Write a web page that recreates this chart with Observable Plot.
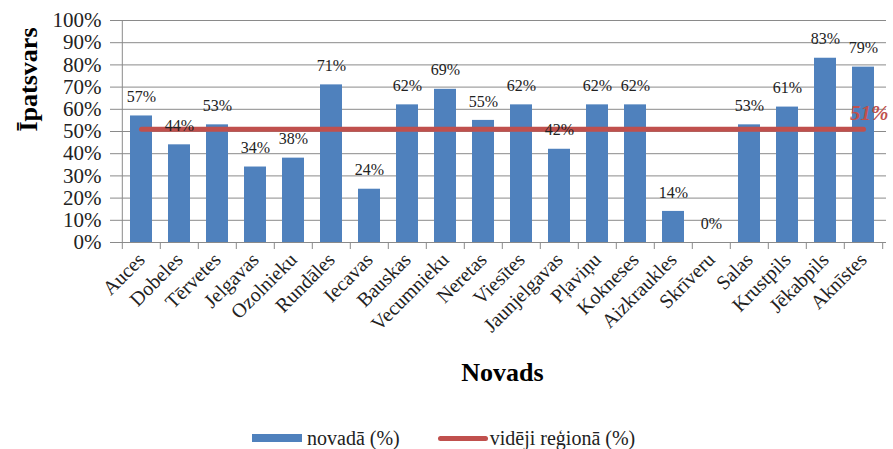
<!DOCTYPE html>
<html>
<head>
<meta charset="utf-8">
<script src="https://cdn.jsdelivr.net/npm/d3@7"></script>
<script src="https://cdn.jsdelivr.net/npm/@observablehq/plot@0.6"></script>
<style>
  body { margin: 0; background: #fff; font-family: 'Liberation Serif', 'DejaVu Serif', serif; }
  #chart svg { display: block; }
  #legend { display: flex; align-items: center; height: 26px; padding-top: 9px; padding-left: 252px; font-size: 20px; color: #222; font-family: 'Liberation Serif', 'DejaVu Serif', serif; }
  .sw { display: inline-block; width: 50px; height: 8px; background: #4F81BD; margin-right: 5px; }
  .ln { display: inline-block; width: 50px; height: 5px; background: #C0504D; border-radius: 3px; margin-left: 38px; margin-right: 2px; }
</style>
</head>
<body>
<div id="chart"></div>
<div id="legend"><span class="sw"></span><span id="s1"></span><span class="ln"></span><span id="s2"></span></div>
<script>
const categories = ["Auces","Dobeles","Tērvetes","Jelgavas","Ozolnieku","Rundāles","Iecavas","Bauskas","Vecumnieku","Neretas","Viesītes","Jaunjelgavas","Pļaviņu","Kokneses","Aizkraukles","Skrīveru","Salas","Krustpils","Jēkabpils","Aknīstes"];
const values = [0.57,0.44,0.53,0.34,0.38,0.71,0.24,0.62,0.69,0.55,0.62,0.42,0.62,0.62,0.14,0.00,0.53,0.61,0.83,0.79];
const regionAvg = [0.51,0.51,0.51,0.51,0.51,0.51,0.51,0.51,0.51,0.51,0.51,0.51,0.51,0.51,0.51,0.51,0.51,0.51,0.51,0.51];
const yTicks = [0,0.1,0.2,0.3,0.4,0.5,0.6,0.7,0.8,0.9,1.0];
const seriesNames = ["novadā (%)", "vidēji reģionā (%)"];
const avgLabel = "51%";

document.getElementById("s1").textContent = seriesNames[0];
document.getElementById("s2").textContent = seriesNames[1];

const data = categories.map((c, i) => ({name: c, value: values[i], avg: regionAvg[i]}));
const W = 893, H = 416, mL = 118, mR = 7, mT = 20, mB = 174;
const half = (W - mL - mR) / categories.length / 2;
const pct = d3.format(".0%");
const serif = "'Liberation Serif', 'DejaVu Serif', serif";

const chart = Plot.plot({
  width: W, height: H,
  marginLeft: mL, marginRight: mR, marginTop: mT, marginBottom: mB,
  style: {fontFamily: serif, color: "#222", background: "#fff", overflow: "visible"},
  x: {type: "band", domain: categories, paddingInner: 0.42, paddingOuter: 0.21},
  y: {domain: [0, 1]},
  marks: [
    Plot.ruleY(yTicks, {stroke: "#8a8a8a", strokeWidth: 1}),
    Plot.ruleX([categories[0]], {dx: -half, y1: 0, y2: 1, stroke: "#8a8a8a"}),
    Plot.ruleX(categories, {dx: -half, y1: 0, y2: 0, insetBottom: -7, stroke: "#8a8a8a"}),
    Plot.ruleX([categories[categories.length - 1]], {dx: half, y1: 0, y2: 0, insetBottom: -7, stroke: "#8a8a8a"}),
    Plot.barY(data, {x: "name", y: "value", fill: "#4F81BD"}),
    Plot.line(data, {x: "name", y: "avg", stroke: "#C0504D", strokeWidth: 5, strokeLinecap: "round"}),
    Plot.text(data, {x: "name", y: "value", text: d => pct(d.value), dy: -19, fontSize: 16, fill: "#222", fontFamily: serif}),
    Plot.text([data[data.length - 1]], {x: "name", y: "avg", text: () => avgLabel, dx: 25, dy: -16, textAnchor: "end", fontSize: 21, fontWeight: "bold", fontStyle: "italic", fill: "#C0504D", fontFamily: serif}),
    Plot.axisY(yTicks, {tickFormat: pct, tickSize: 8, tickPadding: 9, fontSize: 21, stroke: "#8a8a8a", fill: "#222", label: null, fontFamily: serif}),
    Plot.axisX({tickRotate: -45, tickSize: 0, tickPadding: 14, fontSize: 20, fill: "#222", label: null, fontFamily: serif}),
    Plot.text(["Novads"], {frameAnchor: "bottom", dy: 138, fontSize: 26, fontWeight: "bold", fill: "#000", fontFamily: serif}),
    Plot.text(["Īpatsvars"], {frameAnchor: "left", dx: -90, rotate: -90, fontSize: 26, fontWeight: "bold", fill: "#000", fontFamily: serif})
  ]
});
document.getElementById("chart").appendChild(chart);
</script>
</body>
</html>
